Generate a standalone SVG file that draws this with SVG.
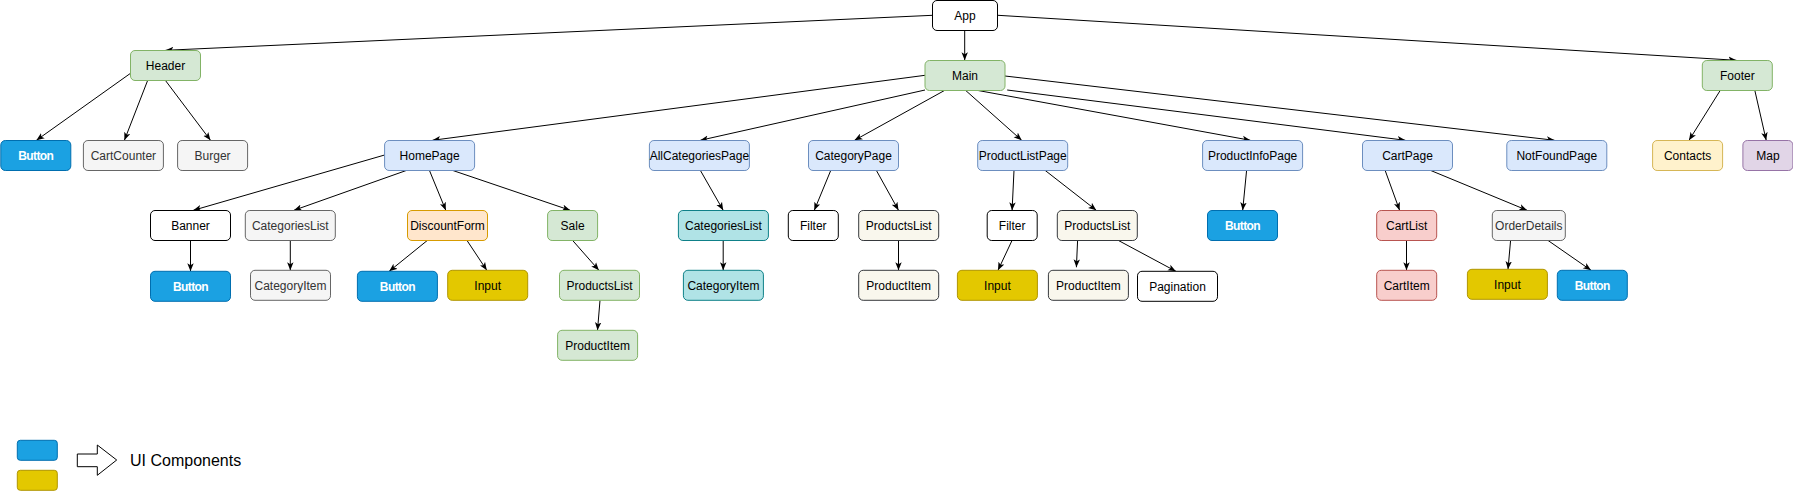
<svg xmlns="http://www.w3.org/2000/svg" width="1793" height="491" viewBox="0 0 1793 491">
<style>
rect.n{stroke-width:1}
.wht{fill:#ffffff;stroke:#000000}
.grn{fill:#d5e8d4;stroke:#82b366}
.blu{fill:#dae8fc;stroke:#6c8ebf}
.btn{fill:#1ba1e2;stroke:#006eaf}
.inp{fill:#e3c800;stroke:#b09500}
.gry{fill:#f5f5f5;stroke:#666666}
.org{fill:#ffe6cc;stroke:#d79b00}
.tea{fill:#b0e3e6;stroke:#0e8088}
.bei{fill:#f9f7ed;stroke:#36393d}
.red{fill:#f8cecc;stroke:#b85450}
.yel{fill:#fff2cc;stroke:#d6b656}
.pur{fill:#e1d5e7;stroke:#9673a6}
text{font-family:"Liberation Sans",Arial,Helvetica,sans-serif;font-size:12px;text-anchor:middle;fill:#000000}
text.g{fill:#333333}
text.b{fill:#ffffff;font-weight:bold;letter-spacing:-0.6px}
#edges path{fill:none;stroke:#000000;stroke-width:1;marker-end:url(#arr)}
</style>
<defs>
<marker id="arr" markerUnits="userSpaceOnUse" viewBox="0 0 10 8" markerWidth="8" markerHeight="7" refX="10" refY="4" orient="auto">
<path d="M0,0 L10,4 L0,8 L2.5,4 z" fill="#000000" stroke="none"/>
</marker>
</defs>
<rect width="1793" height="491" fill="#ffffff"/>
<g id="edges">
<path d="M932.5,15.3 L165.5,50.3"/>
<path d="M964.7,30.3 L964.7,60.3"/>
<path d="M998,15.3 L1736.4,60.3"/>
<path d="M130.5,73.3 L36.4,140.3"/>
<path d="M147.7,80.3 L124.4,140.3"/>
<path d="M165.3,80.3 L210.5,140.3"/>
<path d="M925,75.3 L432.4,140.3"/>
<path d="M925,90 L700.3,140.3"/>
<path d="M944.8,90.3 L854.5,140.3"/>
<path d="M965.5,90.3 L1021.7,140.3"/>
<path d="M977,90.3 L1250.4,140.3"/>
<path d="M1007.2,90 L1405.4,140.3"/>
<path d="M1005,76 L1554.6,140.3"/>
<path d="M1720.3,90.3 L1689,140.3"/>
<path d="M1754.8,90.3 L1766.2,140.3"/>
<path d="M384.6,155 L193.3,210.3"/>
<path d="M406.8,170.3 L293.9,210.3"/>
<path d="M429.4,170.3 L445.8,210.3"/>
<path d="M452.3,170.3 L570.2,210.3"/>
<path d="M700.3,170.3 L723.2,210.3"/>
<path d="M830.8,170.3 L814.3,210.3"/>
<path d="M876.3,170.3 L898.5,210.3"/>
<path d="M1014,170.3 L1012.1,210.3"/>
<path d="M1045,170.3 L1096.3,210.3"/>
<path d="M1246.6,170.3 L1242.7,210.3"/>
<path d="M1385.1,170.3 L1399.6,210.3"/>
<path d="M1430.3,170.3 L1527.1,210.3"/>
<path d="M190.5,240.3 L190.5,271.3"/>
<path d="M290.3,240.3 L290.3,270.3"/>
<path d="M427.5,240.3 L389.2,271.3"/>
<path d="M466.9,240.3 L486.8,270.3"/>
<path d="M572.5,240.3 L598.9,270.3"/>
<path d="M600,300.3 L597.5,330.3"/>
<path d="M723.2,240.3 L723.2,270.3"/>
<path d="M898.5,240.3 L898.5,270.3"/>
<path d="M1012.1,240.3 L998,270.3"/>
<path d="M1077.6,240.3 L1076.4,267.3"/>
<path d="M1118.1,240.3 L1175.9,271.3"/>
<path d="M1406.5,240.3 L1406.5,270.3"/>
<path d="M1510.6,240.3 L1508,269.3"/>
<path d="M1547.8,240.3 L1591,270.3"/>
</g>
<g id="app"><rect class="n wht" x="932.5" y="0.5" width="65" height="30" rx="4.5"/><text x="965" y="19.8">App</text></g>
<g id="header"><rect class="n grn" x="130.5" y="50.5" width="70" height="30" rx="4.5"/><text x="165.5" y="69.8">Header</text></g>
<g id="main"><rect class="n grn" x="925" y="60.5" width="80" height="30" rx="4.5"/><text x="965" y="79.8">Main</text></g>
<g id="footer"><rect class="n grn" x="1702.3" y="60.5" width="70" height="30" rx="4.5"/><text x="1737.3" y="79.8">Footer</text></g>
<g id="header-button"><rect class="n btn" x="0.8" y="140.5" width="70" height="30" rx="4.5"/><text class="b" x="35.8" y="159.8">Button</text></g>
<g id="cartcounter"><rect class="n gry" x="83.4" y="140.5" width="80" height="30" rx="4.5"/><text class="g" x="123.4" y="159.8">CartCounter</text></g>
<g id="burger"><rect class="n gry" x="177.6" y="140.5" width="70" height="30" rx="4.5"/><text class="g" x="212.6" y="159.8">Burger</text></g>
<g id="homepage"><rect class="n blu" x="384.6" y="140.5" width="90" height="30" rx="4.5"/><text x="429.6" y="159.8">HomePage</text></g>
<g id="allcategoriespage"><rect class="n blu" x="649.4" y="140.5" width="100" height="30" rx="4.5"/><text x="699.4" y="159.8">AllCategoriesPage</text></g>
<g id="categorypage"><rect class="n blu" x="808.5" y="140.5" width="90" height="30" rx="4.5"/><text x="853.5" y="159.8">CategoryPage</text></g>
<g id="productlistpage"><rect class="n blu" x="977.7" y="140.5" width="90" height="30" rx="4.5"/><text x="1022.7" y="159.8">ProductListPage</text></g>
<g id="productinfopage"><rect class="n blu" x="1202.6" y="140.5" width="100" height="30" rx="4.5"/><text x="1252.6" y="159.8">ProductInfoPage</text></g>
<g id="cartpage"><rect class="n blu" x="1362.5" y="140.5" width="90" height="30" rx="4.5"/><text x="1407.5" y="159.8">CartPage</text></g>
<g id="notfoundpage"><rect class="n blu" x="1506.8" y="140.5" width="100" height="30" rx="4.5"/><text x="1556.8" y="159.8">NotFoundPage</text></g>
<g id="contacts"><rect class="n yel" x="1652.6" y="140.5" width="70" height="30" rx="4.5"/><text x="1687.6" y="159.8">Contacts</text></g>
<g id="map"><rect class="n pur" x="1742.9" y="140.5" width="50" height="30" rx="4.5"/><text x="1767.9" y="159.8">Map</text></g>
<g id="banner"><rect class="n wht" x="150.5" y="210.5" width="80" height="30" rx="4.5"/><text x="190.5" y="229.8">Banner</text></g>
<g id="home-categorieslist"><rect class="n gry" x="245.3" y="210.5" width="90" height="30" rx="4.5"/><text class="g" x="290.3" y="229.8">CategoriesList</text></g>
<g id="discountform"><rect class="n org" x="407.5" y="210.5" width="80" height="30" rx="4.5"/><text x="447.5" y="229.8">DiscountForm</text></g>
<g id="sale"><rect class="n grn" x="547.6" y="210.5" width="50" height="30" rx="4.5"/><text x="572.6" y="229.8">Sale</text></g>
<g id="allcat-categorieslist"><rect class="n tea" x="678.4" y="210.5" width="90" height="30" rx="4.5"/><text x="723.4" y="229.8">CategoriesList</text></g>
<g id="cat-filter"><rect class="n wht" x="788.3" y="210.5" width="50" height="30" rx="4.5"/><text x="813.3" y="229.8">Filter</text></g>
<g id="cat-productslist"><rect class="n bei" x="858.7" y="210.5" width="80" height="30" rx="4.5"/><text x="898.7" y="229.8">ProductsList</text></g>
<g id="pl-filter"><rect class="n wht" x="987.2" y="210.5" width="50" height="30" rx="4.5"/><text x="1012.2" y="229.8">Filter</text></g>
<g id="pl-productslist"><rect class="n bei" x="1057.3" y="210.5" width="80" height="30" rx="4.5"/><text x="1097.3" y="229.8">ProductsList</text></g>
<g id="info-button"><rect class="n btn" x="1207.5" y="210.5" width="70" height="30" rx="4.5"/><text class="b" x="1242.5" y="229.8">Button</text></g>
<g id="cartlist"><rect class="n red" x="1376.7" y="210.5" width="60" height="30" rx="4.5"/><text x="1406.7" y="229.8">CartList</text></g>
<g id="orderdetails"><rect class="n gry" x="1492.3" y="210.5" width="73" height="30" rx="4.5"/><text class="g" x="1528.8" y="229.8">OrderDetails</text></g>
<g id="banner-button"><rect class="n btn" x="150.5" y="271.3" width="80" height="30" rx="4.5"/><text class="b" x="190.5" y="290.6">Button</text></g>
<g id="home-categoryitem"><rect class="n gry" x="250.5" y="270.3" width="80" height="30" rx="4.5"/><text class="g" x="290.5" y="289.6">CategoryItem</text></g>
<g id="discount-button"><rect class="n btn" x="357.4" y="271.3" width="80" height="30" rx="4.5"/><text class="b" x="397.4" y="290.6">Button</text></g>
<g id="discount-input"><rect class="n inp" x="447.7" y="270.3" width="80" height="30" rx="4.5"/><text x="487.7" y="289.6">Input</text></g>
<g id="sale-productslist"><rect class="n grn" x="559.5" y="270.3" width="80" height="30" rx="4.5"/><text x="599.5" y="289.6">ProductsList</text></g>
<g id="sale-productitem"><rect class="n grn" x="557.6" y="330.3" width="80" height="30" rx="4.5"/><text x="597.6" y="349.6">ProductItem</text></g>
<g id="allcat-categoryitem"><rect class="n tea" x="683.4" y="270.3" width="80" height="30" rx="4.5"/><text x="723.4" y="289.6">CategoryItem</text></g>
<g id="cat-productitem"><rect class="n bei" x="858.7" y="270.3" width="80" height="30" rx="4.5"/><text x="898.7" y="289.6">ProductItem</text></g>
<g id="pl-input"><rect class="n inp" x="957.4" y="270.3" width="80" height="30" rx="4.5"/><text x="997.4" y="289.6">Input</text></g>
<g id="pl-productitem"><rect class="n bei" x="1048.4" y="270.3" width="80" height="30" rx="4.5"/><text x="1088.4" y="289.6">ProductItem</text></g>
<g id="pagination"><rect class="n wht" x="1137.5" y="271.3" width="80" height="30" rx="4.5"/><text x="1177.5" y="290.6">Pagination</text></g>
<g id="cartitem"><rect class="n red" x="1376.7" y="270.3" width="60" height="30" rx="4.5"/><text x="1406.7" y="289.6">CartItem</text></g>
<g id="order-input"><rect class="n inp" x="1467.4" y="269.3" width="80" height="30" rx="4.5"/><text x="1507.4" y="288.6">Input</text></g>
<g id="order-button"><rect class="n btn" x="1557.3" y="270.3" width="70" height="30" rx="4.5"/><text class="b" x="1592.3" y="289.6">Button</text></g>
<g id="legend">
<rect class="n btn" x="17.3" y="440.3" width="40" height="20" rx="3"/>
<rect class="n inp" x="17.3" y="470.3" width="40" height="20" rx="3"/>
<path d="M77.3,454 L97.3,454 L97.3,445 L116.7,460 L97.3,475.3 L97.3,466.7 L77.3,466.7 Z" fill="#ffffff" stroke="#000000" stroke-width="1"/>
<text x="130" y="466" style="font-size:16px;text-anchor:start">UI Components</text>
</g>
</svg>
